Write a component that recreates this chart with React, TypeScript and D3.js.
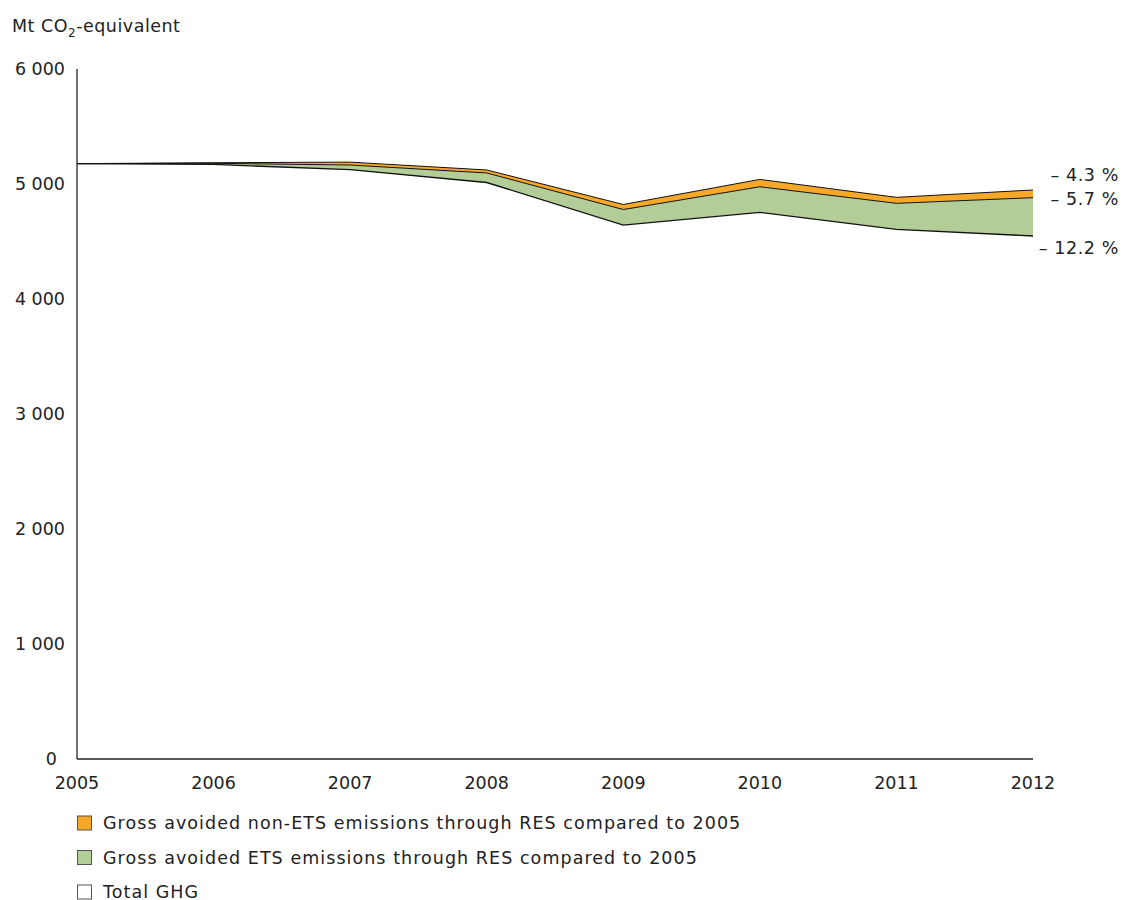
import React from "react";
import * as d3 from "d3";

const years = [2005, 2006, 2007, 2008, 2009, 2010, 2011, 2012];
const totalGHG = [5177, 5170, 5125, 5013, 4643, 4754, 4606, 4548];
const avoidedETS = [0, 10, 40, 83, 135, 222, 226, 333];
const avoidedNonETS = [0, 5, 25, 26, 44, 64, 52, 67];
const yTicks = [0, 1000, 2000, 3000, 4000, 5000, 6000];
const endLabels = ["– 4.3 %", "– 5.7 %", "– 12.2 %"];
const legendItems = [
  { label: "Gross avoided non-ETS emissions through RES compared to 2005", color: "#F7A829" },
  { label: "Gross avoided ETS emissions through RES compared to 2005", color: "#B3CD98" },
  { label: "Total GHG", color: "#FFFFFF" },
];

const W = 1123;
const H = 900;
const FONT = "'DejaVu Sans', Verdana, sans-serif";
const FS = 17.5;

export default function App() {
  const x = d3.scaleLinear().domain([2005, 2012]).range([77, 1033]);
  const y = d3.scaleLinear().domain([0, 6000]).range([759, 69]);

  const rows = years.map((yr, i) => ({
    yr,
    t: totalGHG[i],
    m: totalGHG[i] + avoidedETS[i],
    top: totalGHG[i] + avoidedETS[i] + avoidedNonETS[i],
  }));

  const areaTotal = d3.area<any>().x((d) => x(d.yr)).y0(y(0)).y1((d) => y(d.t));
  const areaETS = d3.area<any>().x((d) => x(d.yr)).y0((d) => y(d.t)).y1((d) => y(d.m));
  const areaNon = d3.area<any>().x((d) => x(d.yr)).y0((d) => y(d.m)).y1((d) => y(d.top));
  const lineT = d3.line<any>().x((d) => x(d.yr)).y((d) => y(d.t));
  const lineM = d3.line<any>().x((d) => x(d.yr)).y((d) => y(d.m));
  const lineTop = d3.line<any>().x((d) => x(d.yr)).y((d) => y(d.top));

  const last = rows[rows.length - 1];
  const fmt = (v: number) => d3.format(",")(v).replace(/,/g, " ");

  return (
    <svg width={W} height={H} style={{ position: "absolute", left: 0, top: 0, background: "#fff" }} fontFamily={FONT}>
      <text x={12} y={32} fontSize={FS} fill="#222" letterSpacing={0.5}>
        Mt CO<tspan fontSize={12} dy={5}>2</tspan><tspan dy={-5}>-equivalent</tspan>
      </text>

      {yTicks.map((t) => (
        <text key={t} x={t === 0 ? 57 : 65} y={y(t)} dy="0.35em" textAnchor="end" fontSize={FS} fill="#222">
          {fmt(t)}
        </text>
      ))}
      {years.map((yr) => (
        <text key={yr} x={x(yr)} y={783} dy="0.35em" textAnchor="middle" fontSize={FS} fill="#222">
          {yr}
        </text>
      ))}

      <path d={areaTotal(rows) || ""} fill="#fff" />
      <path d={areaETS(rows) || ""} fill="#B3CD98" />
      <path d={areaNon(rows) || ""} fill="#F7A829" />
      <path d={lineT(rows) || ""} fill="none" stroke="#111" strokeWidth={1.3} />
      <path d={lineM(rows) || ""} fill="none" stroke="#111" strokeWidth={1} />
      <path d={lineTop(rows) || ""} fill="none" stroke="#111" strokeWidth={1} />

      <line x1={77} x2={77} y1={69} y2={759} stroke="#222" strokeWidth={1.3} />
      <line x1={77} x2={1033} y1={759} y2={759} stroke="#222" strokeWidth={1.3} />

      {[last.top, last.m, last.t].map((v, i) => (
        <text
          key={i}
          x={1119}
          y={[y(last.top) - 15, y(last.m) + 1, y(last.t) + 12][i]}
          dy="0.35em"
          textAnchor="end"
          fontSize={FS}
          fill="#222"
          letterSpacing={0.6}
        >
          {endLabels[i]}
        </text>
      ))}

      {legendItems.map((it, i) => (
        <g key={i} transform={`translate(77, ${815.5 + i * 34.5})`}>
          <rect x={0.5} y={0.5} width={14} height={14} fill={it.color} stroke="#555" strokeWidth={1} />
          <text x={26} y={7.5} dy="0.35em" fontSize={FS} fill="#222" letterSpacing={1.05}>
            {it.label}
          </text>
        </g>
      ))}
    </svg>
  );
}
